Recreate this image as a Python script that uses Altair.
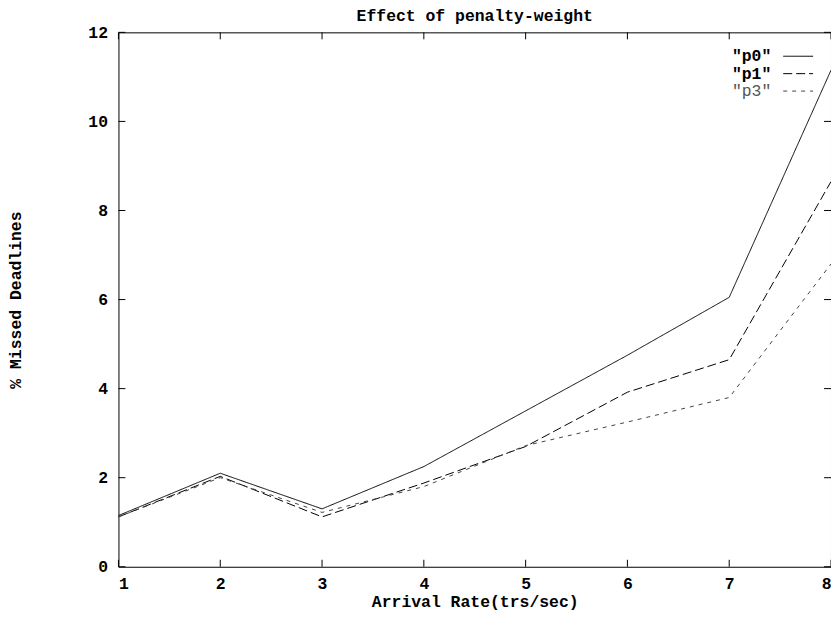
import altair as alt
import pandas as pd

# ---- data ----
arrival_rate = [1, 2, 3, 4, 5, 6, 7, 8]
p0 = [1.15, 2.10, 1.30, 2.25, 3.50, 4.75, 6.05, 11.15]
p1 = [1.12, 2.03, 1.12, 1.88, 2.70, 3.92, 4.65, 8.65]
p3 = [1.12, 2.00, 1.22, 1.80, 2.72, 3.25, 3.80, 6.80]
series_names = ['"p0"', '"p1"', '"p3"']
x_ticks = [1, 2, 3, 4, 5, 6, 7, 8]
y_ticks = [0, 2, 4, 6, 8, 10, 12]
chart_title = "Effect of penalty-weight"

W, H = 716, 537
FONT = "Liberation Mono"
FS = 16.5

rows = []
for name, vals in zip(series_names, [p0, p1, p3]):
    for x, v in zip(arrival_rate, vals):
        rows.append({"rate": x, "missed": v, "series": name})
df = pd.DataFrame(rows)

xscale = alt.Scale(domain=[1, 8], nice=False, zero=False)
yscale = alt.Scale(domain=[0, 12], nice=False, zero=True)

xaxis = alt.Axis(values=x_ticks, ticks=False, domain=False, grid=False,
                 title="Arrival Rate(trs/sec)", labelPadding=9,
                 titleX=W / 2, titleY=35, titleBaseline="middle",
                 labelFont=FONT, titleFont=FONT, labelFontSize=FS, titleFontSize=FS,
                 labelColor="black", titleColor="black",
                 labelFontWeight="bold", titleFontWeight="bold")
yaxis = alt.Axis(values=y_ticks, ticks=False, domain=False, grid=False,
                 title="% Missed Deadlines", labelPadding=11,
                 titleX=-103, titleY=H / 2, titleBaseline="middle",
                 labelFont=FONT, titleFont=FONT, labelFontSize=FS, titleFontSize=FS,
                 labelColor="black", titleColor="black",
                 labelFontWeight="bold", titleFontWeight="bold")
X = alt.X("rate:Q", scale=xscale, axis=xaxis)
Y = alt.Y("missed:Q", scale=yscale, axis=yaxis)

styles = {
    '"p0"': {"dash": [1, 0], "color": "#000000"},
    '"p1"': {"dash": [9, 4], "color": "#000000"},
    '"p3"': {"dash": [4, 5], "color": "#444444"},
}

layers = []

for name in series_names:
    st = styles[name]
    layers.append(
        alt.Chart(df[df.series == name]).mark_line(
            color=st["color"], strokeWidth=1, strokeDash=st["dash"]
        ).encode(x=X, y=Y)
    )

# inward ticks on all four sides
TL = 7
xt = pd.DataFrame({"rate": x_ticks})
yt = pd.DataFrame({"missed": y_ticks})
layers.append(alt.Chart(xt).mark_rule(color="black", strokeWidth=1).encode(
    x=X, y=alt.value(H), y2=alt.value(H - TL)))
layers.append(alt.Chart(xt).mark_rule(color="black", strokeWidth=1).encode(
    x=X, y=alt.value(0), y2=alt.value(TL)))
layers.append(alt.Chart(yt).mark_rule(color="black", strokeWidth=1).encode(
    y=Y, x=alt.value(0), x2=alt.value(TL)))
layers.append(alt.Chart(yt).mark_rule(color="black", strokeWidth=1).encode(
    y=Y, x=alt.value(W), x2=alt.value(W - TL)))

# gnuplot-style legend (label then line sample)
for i, name in enumerate(series_names):
    st = styles[name]
    one = pd.DataFrame({"label": [name]})
    ypos = 24 + i * 17.5
    layers.append(alt.Chart(one).mark_text(
        align="right", baseline="middle", font=FONT, fontSize=FS,
        fontWeight="normal" if name == '"p3"' else "bold",
        color="#555555" if name == '"p3"' else "#000000",
    ).encode(text="label:N", x=alt.value(656), y=alt.value(ypos)))
    layers.append(alt.Chart(one).mark_rule(
        color=st["color"], strokeWidth=1, strokeDash=st["dash"]
    ).encode(x=alt.value(668), x2=alt.value(698), y=alt.value(ypos)))

# chart title drawn as a text mark above the frame
layers.append(alt.Chart(pd.DataFrame({"t": [chart_title]})).mark_text(
    align="center", baseline="alphabetic", font=FONT, fontSize=FS,
    fontWeight="bold", color="black"
).encode(text="t:N", x=alt.value(W / 2), y=alt.value(-11)))

chart = alt.layer(*layers).properties(
    width=W, height=H,
    background="white",
    autosize=alt.AutoSizeParams(type="none"),
    padding={"left": 111, "top": 23, "right": 0, "bottom": 46},
).configure_view(
    stroke="black", strokeWidth=1
)

chart.save("out.html", embed_options={"renderer": "svg", "actions": False})
